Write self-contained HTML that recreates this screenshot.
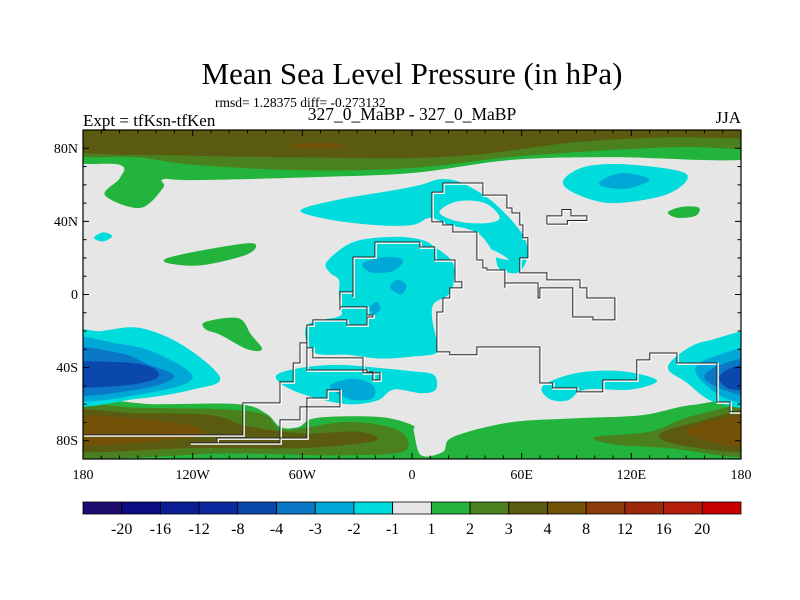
<!DOCTYPE html>
<html><head><meta charset="utf-8"><style>
html,body{margin:0;padding:0;background:#fff;}
svg{display:block;font-family:"Liberation Serif",serif;}
</style></head><body>
<svg id="chart" width="800" height="600" viewBox="0 0 800 600" xmlns="http://www.w3.org/2000/svg">
<text x="412" y="84" font-size="31" text-anchor="middle">Mean Sea Level Pressure (in hPa)</text>
<text x="215" y="107" font-size="13.5">rmsd= 1.28375 diff= -0.273132</text>
<text x="83" y="126" font-size="17">Expt = tfKsn-tfKen</text>
<text x="412" y="120" font-size="17.5" text-anchor="middle">327_0_MaBP - 327_0_MaBP</text>
<text x="741" y="123" font-size="17" text-anchor="end">JJA</text>
<defs><clipPath id="plotclip"><rect x="83" y="130" width="658" height="329"/></clipPath></defs>
<g id="map" clip-path="url(#plotclip)"></g>
<g id="axes"></g>
<g id="cbar"></g>
</svg>
<script>
// colour levels
const levelLabels = ["-20","-16","-12","-8","-4","-3","-2","-1","1","2","3","4","8","12","16","20"];
const levelColors = ["#1e0c6e","#0c0c82","#0c1e94","#0c28a0","#0a48ae","#0a78c6","#00a8d8","#00dcdc","#e6e6e6","#22b43c","#4b801e","#5a5a10","#735208","#8c3c0a","#a0280a","#b41e0a","#c80000"];
const lonTicks = [-180,-120,-60,0,60,120,180];
const lonTickLabels = ["180","120W","60W","0","60E","120E","180"];
const latTicks = [80,40,0,-40,-80];
const latTickLabels = ["80N","40N","0","40S","80S"];

// contour regions: [colour index, [lon,lat] points]
const nGreen = [[-190,95],[190,95],[190,74.7],[108,75.2],[53.6,73.6],[0,66.5],[-60,64],[-119.8,62.6],[-136.2,63],[-136.2,58.3],[-148.8,47.3],[-168,54.4],[-159.8,63.7],[-160,71],[-190,73.6]];
const nMid = [[-190,95],[190,95],[190,80.5],[150,80.7],[108,79],[53.6,75.2],[0,69.2],[-60,68],[-120,71],[-150,75],[-190,77]];
const nOlive = [[-190,95],[190,95],[190,86],[140,86],[90,83.4],[40,77],[0,74.7],[-60,75],[-120,76],[-190,79]];
const nBrown = [[-65,82],[-52,83],[-39,82],[-39,80.5],[-52,80],[-65,80.5]];
const npCyan = [[82.6,62],[95,70],[120,71],[150,66],[140,55],[110,50],[90,55]];
const npBlue = [[103,62],[115,66.5],[130,63],[118,58],[105,59]];
const npGreen = [[140,45],[148,48],[157,47.5],[155,43],[145,42]];
const wpCyan = [[-174,31],[-169,34],[-164,32],[-169,29]];
const midGreen = [[-133.5,20],[-110,25],[-87,28],[-90,22],[-115,16],[-133,17]];
const southGreenBlob = [[-113,-15],[-95,-13],[-88,-22],[-82,-30],[-90,-30],[-105,-22],[-113,-19]];
const naCyan = [[-61,46],[-40,52],[-10,57],[5,60],[15,63],[25,62],[35,57],[45,50],[55,40],[62,30],[63,20],[58,12],[48,14],[45,22],[38,32],[30,36],[20,38],[10,42],[0,38],[-20,38],[-45,41]];
const naHole1 = [[15,45],[25,51],[40,50],[48,42],[40,39],[25,40]];
const naHole2 = [[36,26],[45,24],[53,19],[44,21]];
const centralCyan = [[-46.5,18],[-32,28.7],[-10,31.5],[5,30],[12.5,26],[22,18],[23,8],[20,0],[12,-5],[11,-13],[13.6,-26],[13.6,-32],[0,-34],[-17.5,-35],[-35,-33],[-54,-31.5],[-57.5,-17],[-40,-12],[-39,-8],[-40,0],[-40,8],[-45,12]];
const centralBlue1 = [[-27,17],[-15,20.5],[-5,19],[-10,13],[-22,12]];
const centralBlue2 = [[-12,4],[-8,8],[-3,5],[-6,0]];
const centralBlue3 = [[-23,-7],[-19,-4],[-17.5,-8],[-21,-11]];
const saCyan = [[-74,-44],[-60,-40],[-40,-38.5],[-20,-40],[0,-42],[12,-44],[13,-52],[5,-54],[-10,-52],[-19,-58],[-35,-60],[-55,-56],[-70,-50]];
const saBlue = [[-45,-50],[-32,-46],[-21,-50],[-22,-57],[-35,-57]];
const ioCyan = [[71.6,-50],[90,-43],[115,-42],[134,-47],[120,-52],[95,-52],[85,-58],[75,-57]];
const wLow1 = [[-190,-22],[-170,-20],[-149,-18.3],[-125,-28],[-105,-45.7],[-120,-52],[-150,-57],[-190,-59]];
const wLow2 = [[-190,-25],[-160,-27],[-140,-32],[-120,-45],[-140,-53],[-190,-57]];
const wLow3 = [[-190,-30],[-160,-32],[-145,-38],[-130,-45],[-150,-52],[-190,-54]];
const wLow4 = [[-190,-38],[-160,-37],[-142,-40],[-140,-46],[-160,-50],[-190,-50]];
const eLow1 = [[140,-40],[150,-30],[163,-25],[190,-22],[190,-59],[166,-59],[150,-48]];
const eLow2 = [[155,-42],[165,-34],[190,-30],[190,-58],[170,-56]];
const eLow3 = [[160,-45],[170,-38],[190,-35],[190,-55],[170,-52]];
const eLow4 = [[168,-46],[175,-40],[190,-38],[190,-50],[175,-52]];
const sGreen = [[-190,-95],[190,-95],[190,-59],[153.7,-60.4],[126,-66],[90,-67.7],[53.6,-70],[22.4,-78],[17,-86],[5,-88],[1,-75],[0,-71.4],[-18,-67],[-52,-67.5],[-62,-72.5],[-72,-72.5],[-80,-65],[-95,-60],[-140,-60],[-190,-59.5]];
const sMidW = [[-190,-61],[-150,-62],[-100,-63],[-80,-66],[-70,-74],[-40,-70],[-20,-71],[-5,-76],[-5,-86],[-40,-88],[-100,-87],[-190,-88]];
const sMidE = [[100,-78],[130,-75],[155,-66],[190,-61],[190,-88],[140,-84],[110,-82]];
const sOliveW = [[-190,-64],[-150,-65],[-110,-66],[-90,-72],[-60,-76],[-30,-75],[-20,-80],[-60,-84],[-120,-84],[-190,-85]];
const sOliveE = [[135,-77],[155,-70],[190,-63],[190,-85],[150,-83]];
const sBrownW = [[-190,-67],[-150,-68],[-120,-72],[-115,-77],[-150,-81],[-190,-82]];
const sBrownE = [[150,-75],[165,-69],[190,-66],[190,-83],[165,-81]];

const regions = [
 ["north-band-level-2",9,nGreen],["north-band-level-3",10,nMid],["north-band-level-4",11,nOlive],["north-band-level-8",12,nBrown],
 ["south-band-level-2",9,sGreen],["south-west-level-3",10,sMidW],["south-east-level-3",10,sMidE],
 ["south-west-level-4",11,sOliveW],["south-east-level-4",11,sOliveE],["south-west-level-8",12,sBrownW],["south-east-level-8",12,sBrownE],
 ["np-low-level-1",7,npCyan],["np-low-level-2",6,npBlue],["np-high",9,npGreen],["wp-low",7,wpCyan],
 ["mid-high",9,midGreen],["south-high-blob",9,southGreenBlob],
 ["na-low",7,naCyan],["na-hole-1",8,naHole1],["na-hole-2",8,naHole2],
 ["central-low",7,centralCyan],["central-low-2a",6,centralBlue1],["central-low-2b",6,centralBlue2],["central-low-2c",6,centralBlue3],
 ["sa-low",7,saCyan],["sa-low-2",6,saBlue],["io-low",7,ioCyan],
 ["west-low-1",7,wLow1],["west-low-2",6,wLow2],["west-low-3",5,wLow3],["west-low-4",4,wLow4],
 ["east-low-1",7,eLow1],["east-low-2",6,eLow2],["east-low-3",5,eLow3],["east-low-4",4,eLow4]
];

// continent outlines
const coastEast = [[-20.3,28.7],[-5,28.7],[4.3,26],[12.5,26],[12.5,18.9],[23.5,18.9],[23.5,6.9],[27.3,3.6],[20.7,-1.9],[16.9,-9.6],[13.6,-18.3],[13.6,-31.4],[20.7,-33],[31.7,-33],[35.5,-28.7],[42.6,-28.7],[70,-48.4],[77,-51.1],[90.2,-53.3],[104.4,-46.8],[122,-46.8],[123,-35.8],[130.1,-32],[137.3,-32],[145,-37.5],[166.8,-58.8],[174,-64.2],[180,-75.2]];
const coastWest = [[-180,-76.8],[-141.7,-76.8],[-92.5,-59.3],[-72.2,-47.8],[-65,-37.5],[-61.3,-26.5],[-57.5,-26.5],[-57.5,-41.3],[-24.6,-42.4],[-21.4,-46.8],[-17.5,-42.9],[-26.8,-34.7],[-54.2,-29.2],[-57.5,-23.8],[-57.5,-16.7],[-54.2,-13.9],[-35.6,-16.7],[-24.6,-12.3],[-21.4,-11.2],[-24.6,-6.8],[-39.4,-8.5],[-39.4,1.4],[-32.3,-1.4],[-32.3,20.5],[-20.3,28.7]];
const coastStrip = [[-121.5,-81.2],[-106.7,-78.5],[-57.5,-56.6],[-46.5,-52.2],[-39.4,-52.2],[-39.4,-61.5],[-61.3,-68.6],[-72.2,-76.8],[-72.2,-81.2],[-121.5,-81.2]];
const coastNorth = [[16.9,61],[24.6,61],[38.8,54.4],[51.9,47.3],[54.7,44.6],[59,38],[60.7,31],[63.4,20],[59,18.9],[59,11.8],[73.8,10.7],[73.8,8],[91.9,8],[91.9,3.6],[95.7,-1.9],[111,-8.5],[111,-13.9],[99,-12.3],[88,-6.8],[88,3.6],[70,-1.9],[69,6.3],[50.8,3.6],[50.8,13.4],[41,14.5],[38.8,18.9],[35.5,27.3],[35.5,34.2],[22.4,38],[16.9,39.7],[10.9,43.5],[10.9,56],[16.9,61]];
const coastIsland = [[73.8,38.5],[73.8,43],[82,43],[82,46.5],[87,46.5],[87,43],[95.7,43],[95.7,40.5],[85,40.5],[85,38.5],[73.8,38.5]];
const coasts = [coastEast,coastWest,coastStrip,coastNorth,coastIsland];

const X0=83,X1=741,Y0=130,Y1=459;
const xOf = lon => X0 + (lon+180)/360*(X1-X0);
const yOf = lat => Y0 + (90-lat)/180*(Y1-Y0);
const NS="http://www.w3.org/2000/svg";
function mk(tag,attrs,parent){const e=document.createElementNS(NS,tag);for(const k in attrs)e.setAttribute(k,attrs[k]);parent.appendChild(e);return e;}
function smooth(pts){
  const p=pts.map(q=>[xOf(q[0]),yOf(q[1])]);const n=p.length;let d="M"+p[0][0].toFixed(1)+","+p[0][1].toFixed(1);
  for(let i=0;i<n;i++){const a=p[(i-1+n)%n],b=p[i],c=p[(i+1)%n],e=p[(i+2)%n];
    const c1=[b[0]+(c[0]-a[0])/6,b[1]+(c[1]-a[1])/6],c2=[c[0]-(e[0]-b[0])/6,c[1]-(e[1]-b[1])/6];
    d+=`C${c1[0].toFixed(1)},${c1[1].toFixed(1)} ${c2[0].toFixed(1)},${c2[1].toFixed(1)} ${c[0].toFixed(1)},${c[1].toFixed(1)}`;}
  return d+"Z";}
const map=document.getElementById("map");
const bg=mk("rect",{x:X0,y:Y0,width:X1-X0,height:Y1-Y0,fill:levelColors[8]},map);


regions.forEach(r=>{
  const el=mk("path",{d:smooth(r[2]),fill:levelColors[r[1]]},map);
  
  
});
coasts.forEach((c,i)=>{
  let d="";c.forEach((q,j)=>{const x=xOf(q[0]),y=yOf(q[1]);
    if(j===0)d+=`M${x.toFixed(1)},${y.toFixed(1)}`;else{const py=yOf(c[j-1][1]);d+=`L${x.toFixed(1)},${py.toFixed(1)}L${x.toFixed(1)},${y.toFixed(1)}`;}});
  const w=mk("path",{d:d,fill:"none",stroke:"#fff",'stroke-width':2.2,transform:"translate(0.8,0.8)"},map);
  
  
  const el=mk("path",{d:d,fill:"none",stroke:"#222",'stroke-width':1},map);
  
  
});

const axes=document.getElementById("axes");
const fr=mk("rect",{x:X0,y:Y0,width:X1-X0,height:Y1-Y0,fill:"none",stroke:"#000",'stroke-width':1.2},axes);


for(let lon=-180;lon<=180;lon+=10){const x=xOf(lon),L=(lon%60===0)?6:3.5;
  mk("line",{x1:x,y1:Y1,x2:x,y2:Y1-L,stroke:"#000"},axes);mk("line",{x1:x,y1:Y0,x2:x,y2:Y0+L,stroke:"#000"},axes);}
for(let lat=-90;lat<=90;lat+=10){const y=yOf(lat),L=(lat%40===0)?6:3.5;
  mk("line",{x1:X0,y1:y,x2:X0+L,y2:y,stroke:"#000"},axes);mk("line",{x1:X1,y1:y,x2:X1-L,y2:y,stroke:"#000"},axes);}
lonTicks.forEach((v,i)=>{const t=mk("text",{x:xOf(v),y:479,'font-size':14,'text-anchor':'middle'},axes);t.textContent=lonTickLabels[i];
  
  });
latTicks.forEach((v,i)=>{const t=mk("text",{x:78,y:yOf(v)+4.5,'font-size':14,'text-anchor':'end'},axes);t.textContent=latTickLabels[i];
  
  });

const cb=document.getElementById("cbar");const bw=(X1-X0)/levelColors.length;
levelColors.forEach((c,i)=>{const r=mk("rect",{x:X0+i*bw,y:502,width:bw,height:12,fill:c,stroke:"#000",'stroke-width':0.8},cb);
  
  });
levelLabels.forEach((s,i)=>{const t=mk("text",{x:X0+(i+1)*bw,y:534,'font-size':16,'text-anchor':'middle'},cb);t.textContent=s;
  
  });
</script>
</body></html>
